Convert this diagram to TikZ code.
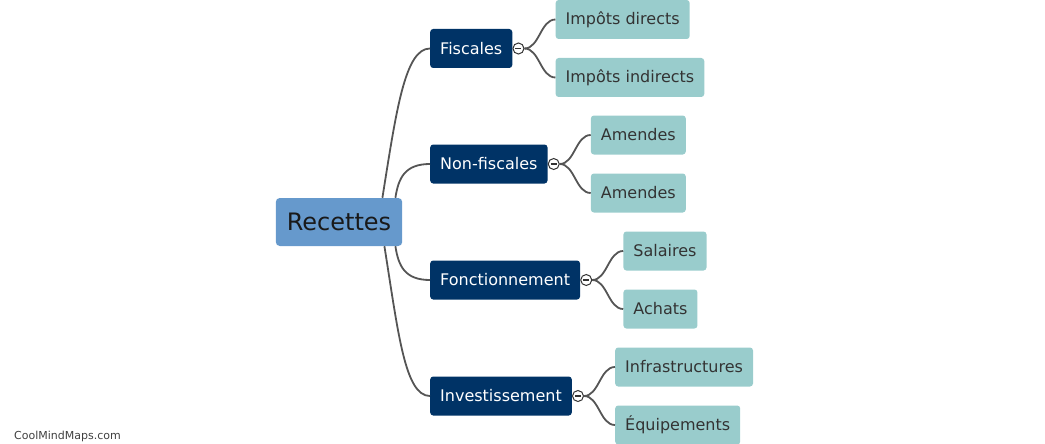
\documentclass[tikz,border=0pt]{standalone}
\usepackage{fontspec}
\setmainfont{DejaVu Sans}
\usetikzlibrary{positioning}
\definecolor{rootblue}{HTML}{6699CC}
\definecolor{navy}{HTML}{003366}
\definecolor{leafteal}{HTML}{99CCCC}
\definecolor{linkgray}{HTML}{555555}
\tikzset{rootbox/.style={fill=rootblue, rounded corners=4pt, minimum height=48pt, inner xsep=11pt, text=black!90, font=\fontsize{24}{28}\selectfont}}
\tikzset{br/.style={fill=navy, rounded corners=3pt, minimum height=39pt, inner xsep=10pt, text=white, font=\fontsize{16}{19}\selectfont, anchor=west}}
\tikzset{lf/.style={fill=leafteal, rounded corners=3pt, minimum height=39pt, inner xsep=10pt, text=black!80, font=\fontsize{16}{19}\selectfont, anchor=west}}
\tikzset{tog/.style={circle, draw=black!80, fill=white, line width=1pt, minimum size=11pt, inner sep=0pt,
  path picture={\draw[line width=1.4pt] ([xshift=-3pt]path picture bounding box.center) -- ([xshift=3pt]path picture bounding box.center);}}}
\tikzset{conn/.style={draw=linkgray, line width=1.8pt}}

\begin{document}
\begin{tikzpicture}[x=1pt, y=-1pt]
  \useasboundingbox (0,0) rectangle (1045,444);
  \node[rootbox] (R) at (339,222) {Recettes};
  % branches
  \node[br] (F) at (430,48.5) {Fiscales};
  \node[br] (N) at (430,164) {Non-fiscales};
  \node[br] (O) at (430,280) {Fonctionnement};
  \node[br] (I) at (430,396) {Investissement};
  \node[tog, right=0pt of F] (cF) {};
  \node[tog, right=0pt of N] (cN) {};
  \node[tog, right=0pt of O] (cO) {};
  \node[tog, right=0pt of I] (cI) {};
  % leaves
  \node[lf] (F1) at ([shift={(31,-29)}]cF.east) {Impôts directs};
  \node[lf] (F2) at ([shift={(31,29)}]cF.east) {Impôts indirects};
  \node[lf] (N1) at ([shift={(31,-29)}]cN.east) {Amendes};
  \node[lf] (N2) at ([shift={(31,29)}]cN.east) {Amendes};
  \node[lf] (O1) at ([shift={(31,-29)}]cO.east) {Salaires};
  \node[lf] (O2) at ([shift={(31,29)}]cO.east) {Achats};
  \node[lf] (I1) at ([shift={(31,-29)}]cI.east) {Infrastructures};
  \node[lf] (I2) at ([shift={(31,29)}]cI.east) {Équipements};
  % links
  \draw[conn] ([xshift=-20pt]R.north east) .. controls +(14,-88) and +(-25,0) .. (F.west);
  \draw[conn] ([xshift=-7pt]R.north east) .. controls +(3,-20) and +(-25,0) .. (N.west);
  \draw[conn] ([xshift=-7pt]R.south east) .. controls +(3,20) and +(-25,0) .. (O.west);
  \draw[conn] ([xshift=-18pt]R.south east) .. controls +(14,88) and +(-25,0) .. (I.west);
  \foreach \c/\a/\b in {cF/F1/F2, cN/N1/N2, cO/O1/O2, cI/I1/I2} {
    \draw[conn] (\c.east) .. controls +(15,0) and +(-15,0) .. (\a.west);
    \draw[conn] (\c.east) .. controls +(15,0) and +(-15,0) .. (\b.west);
  }
  \node[anchor=base west, inner sep=0pt, text=black!75, font=\fontsize{11}{13}\selectfont] (wm) at (14,439) {CoolMindMaps.com};
\end{tikzpicture}
\end{document}
